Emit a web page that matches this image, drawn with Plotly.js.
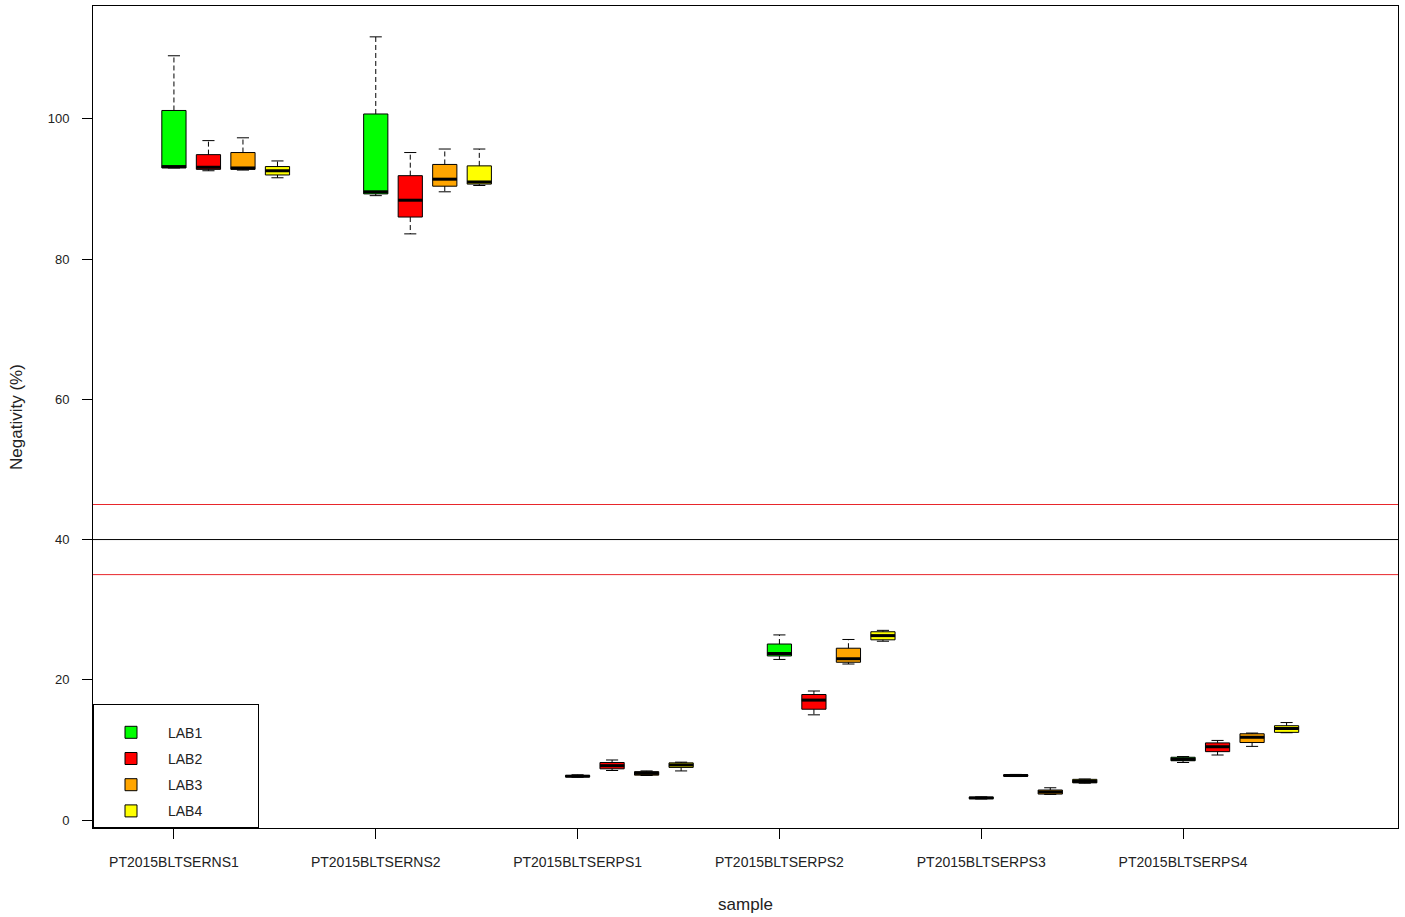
<!DOCTYPE html>
<html>
<head>
<meta charset="utf-8">
<script src="https://cdn.plot.ly/plotly-3.0.1.min.js"></script>
<style>html,body{margin:0;padding:0;background:#fff;}#chart{width:1405px;height:917px;}</style>
</head>
<body>
<div id="chart"></div>
<script>
// ---- data ----
const samples = ['PT2015BLTSERNS1','PT2015BLTSERNS2','PT2015BLTSERPS1','PT2015BLTSERPS2','PT2015BLTSERPS3','PT2015BLTSERPS4'];
const labs = ['LAB1','LAB2','LAB3','LAB4'];
const labColors = ['#00FF00','#FF0000','#FFA500','#FFFF00'];

const lab1Lower = [93.0, 89.05, 6.1, 22.9, 3.0, 8.2];
const lab1Q1    = [93.0, 89.3, 6.15, 23.4, 3.05, 8.45];
const lab1Med   = [93.2, 89.6, 6.25, 23.75, 3.15, 8.65];
const lab1Q3    = [101.2, 100.7, 6.35, 25.1, 3.25, 8.95];
const lab1Upper = [109.0, 111.7, 6.45, 26.4, 3.3, 9.05];

const lab2Lower = [92.6, 83.6, 7.06, 15.0, 6.2, 9.27];
const lab2Q1    = [92.8, 86.0, 7.3, 15.8, 6.25, 9.75];
const lab2Med   = [93.1, 88.4, 7.75, 17.1, 6.35, 10.45];
const lab2Q3    = [94.9, 91.9, 8.2, 17.9, 6.45, 11.0];
const lab2Upper = [96.9, 95.2, 8.56, 18.4, 6.5, 11.35];

const lab3Lower = [92.7, 89.6, 6.35, 22.25, 3.65, 10.5];
const lab3Q1    = [92.8, 90.4, 6.4, 22.5, 3.7, 11.05];
const lab3Med   = [93.0, 91.4, 6.65, 23.0, 4.0, 11.8];
const lab3Q3    = [95.2, 93.5, 6.9, 24.5, 4.28, 12.3];
const lab3Upper = [97.3, 95.7, 7.0, 25.75, 4.6, 12.4];

const lab4Lower = [91.6, 90.5, 7.0, 25.5, 5.25, 12.45];
const lab4Q1    = [92.0, 90.7, 7.5, 25.7, 5.3, 12.5];
const lab4Med   = [92.6, 91.0, 7.85, 26.3, 5.5, 13.05];
const lab4Q3    = [93.2, 93.3, 8.15, 26.85, 5.8, 13.45];
const lab4Upper = [94.0, 95.7, 8.25, 27.05, 5.85, 13.9];

const redLines = [35, 45];
const blackLines = [40];
const yTicks = [0, 20, 40, 60, 80, 100];

// ---- build ----
const stats = [
  {lo: lab1Lower, q1: lab1Q1, med: lab1Med, q3: lab1Q3, hi: lab1Upper},
  {lo: lab2Lower, q1: lab2Q1, med: lab2Med, q3: lab2Q3, hi: lab2Upper},
  {lo: lab3Lower, q1: lab3Q1, med: lab3Med, q3: lab3Q3, hi: lab3Upper},
  {lo: lab4Lower, q1: lab4Q1, med: lab4Med, q3: lab4Q3, hi: lab4Upper}
];
const groupStep = 0.171;
const boxW = 0.12;
const capHalf = boxW / 4;
const medHalf = boxW / 2;
const basePos = samples.map((s, i) => i + 1);
const pad = '\u00a0'.repeat(13);

const traces = [];
const whiskers = [], caps = [], medians = [];
labs.forEach((lab, j) => {
  const st = stats[j];
  const pos = basePos.map(p => p + j * groupStep);
  traces.push({
    type: 'box', name: lab + pad, legendgroup: lab,
    x: pos, q1: st.q1, median: st.med, q3: st.q3,
    lowerfence: st.q1, upperfence: st.q3,
    width: boxW, whiskerwidth: 0,
    fillcolor: labColors[j],
    line: {color: '#000', width: 1},
    boxpoints: false, hoverinfo: 'skip'
  });
  const wx = [], wy = [], cx = [], cy = [], mx = [], my = [];
  pos.forEach((p, i) => {
    wx.push(p, p, null, p, p, null);
    wy.push(st.q3[i], st.hi[i], null, st.q1[i], st.lo[i], null);
    cx.push(p - capHalf, p + capHalf, null, p - capHalf, p + capHalf, null);
    cy.push(st.hi[i], st.hi[i], null, st.lo[i], st.lo[i], null);
    mx.push(p - medHalf, p + medHalf, null);
    my.push(st.med[i], st.med[i], null);
  });
  whiskers.push({type: 'scatter', mode: 'lines', x: wx, y: wy, showlegend: false, hoverinfo: 'skip',
    line: {color: '#000', width: 1, dash: '5px,3px'}});
  caps.push({type: 'scatter', mode: 'lines', x: cx, y: cy, showlegend: false, hoverinfo: 'skip',
    line: {color: '#000', width: 1}});
  medians.push({type: 'scatter', mode: 'lines', x: mx, y: my, showlegend: false, hoverinfo: 'skip',
    line: {color: '#000', width: 3}});
});

const shapes = [];
redLines.forEach(v => shapes.push({type: 'line', xref: 'paper', x0: 0, x1: 1, yref: 'y', y0: v, y1: v,
  line: {color: '#E8262B', width: 1}, layer: 'below'}));
blackLines.forEach(v => shapes.push({type: 'line', xref: 'paper', x0: 0, x1: 1, yref: 'y', y0: v, y1: v,
  line: {color: '#000', width: 1}, layer: 'below'}));

const font = 'Liberation Sans, Arial, sans-serif';
const layout = {
  width: 1405, height: 917,
  margin: {l: 93, r: 7, t: 6, b: 89},
  paper_bgcolor: '#fff', plot_bgcolor: '#fff',
  font: {family: font, color: '#222'},
  showlegend: true,
  legend: {x: 0, y: 0, xanchor: 'left', yanchor: 'bottom', bgcolor: '#fff',
    bordercolor: '#000', borderwidth: 1, font: {size: 14, color: '#222', family: font},
    itemwidth: 64, tracegroupgap: 5, traceorder: 'grouped',
    title: {text: ' ', font: {size: 9}}},
  xaxis: {
    range: [0.599, 7.065], tickmode: 'array', tickvals: basePos, ticktext: samples,
    ticks: 'outside', ticklen: 10, tickcolor: '#000', tickwidth: 1,
    showline: true, linecolor: '#000', linewidth: 1, mirror: true,
    showgrid: false, zeroline: false, tickfont: {size: 14, color: '#222'},
    ticklabelstandoff: 11,
    title: {text: 'sample', font: {size: 17, color: '#222'}, standoff: 29}
  },
  yaxis: {
    range: [-1.14, 116.1], tickmode: 'array', tickvals: yTicks,
    ticks: 'outside', ticklen: 10, tickcolor: '#000', tickwidth: 1,
    showline: true, linecolor: '#000', linewidth: 1, mirror: true,
    showgrid: false, zeroline: false, tickfont: {size: 13, color: '#222'},
    ticklabelstandoff: 10,
    title: {text: 'Negativity (%)', font: {size: 17, color: '#222'}, standoff: 20}
  },
  shapes: shapes
};

Plotly.newPlot('chart', traces.concat(whiskers, caps, medians), layout, {displayModeBar: false, staticPlot: true});
</script>
</body>
</html>
